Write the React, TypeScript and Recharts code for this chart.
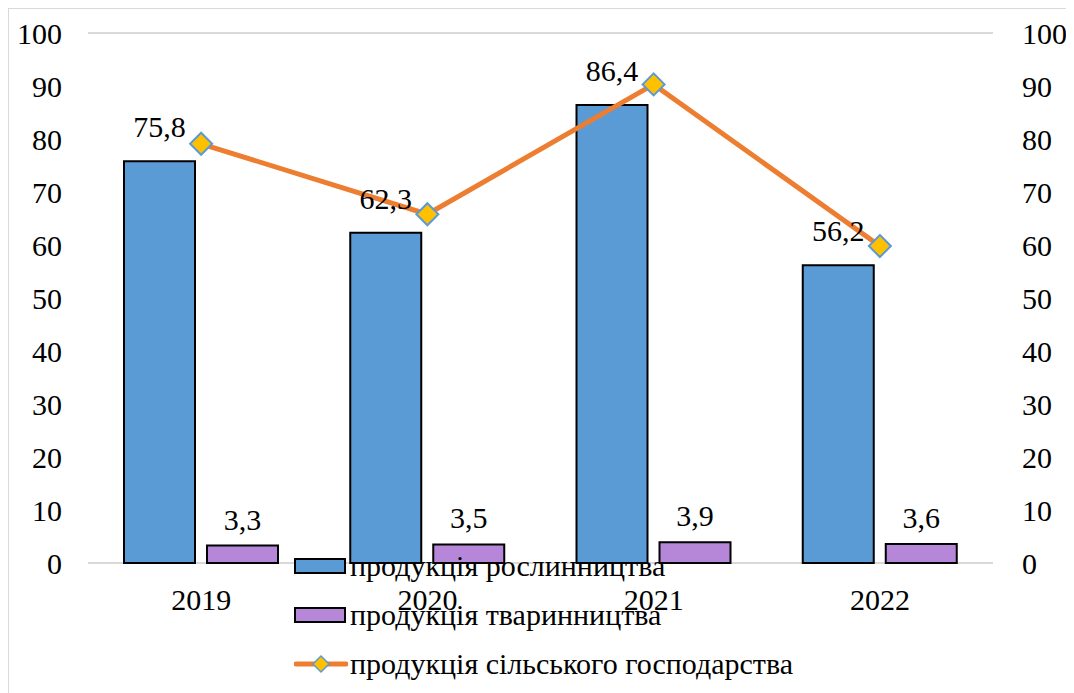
import React from "react";
import {
  ComposedChart,
  Bar,
  Line,
  XAxis,
  YAxis,
  CartesianGrid,
  Legend,
  LabelList,
} from "recharts";

const years = ["2019", "2020", "2021", "2022"];
const cropValues = [75.8, 62.3, 86.4, 56.2];
const livestockValues = [3.3, 3.5, 3.9, 3.6];
const agroValues = [79.1, 65.8, 90.3, 59.8];
const axisTicks = [0, 10, 20, 30, 40, 50, 60, 70, 80, 90, 100];

const seriesNames = [
  "продукція рослинництва",
  "продукція тваринництва",
  "продукція сільського господарства",
];

const data = years.map((year, i) => ({
  year,
  crop: cropValues[i],
  livestock: livestockValues[i],
  agro: agroValues[i],
}));

const FONT = "Liberation Serif, DejaVu Serif, Times New Roman, serif";
const BLUE = "#5B9BD5";
const PURPLE = "#B686D8";
const ORANGE = "#ED7D31";
const YELLOW = "#FFC000";

const comma = (v: any) => String(v).replace(".", ",");

const Diamond = (props: any) => {
  const { cx, cy, index } = props;
  if (cx == null || cy == null) return null;
  const r = 11;
  return (
    <polygon
      key={`d-${index}`}
      points={`${cx},${cy - r} ${cx + r},${cy} ${cx},${cy + r} ${cx - r},${cy}`}
      fill={YELLOW}
      stroke={BLUE}
      strokeWidth={2}
    />
  );
};

const renderLegend = () => (
  <div style={{ fontFamily: FONT, fontSize: 30, color: "#000" }}>
    {seriesNames.map((name, i) => (
      <div
        key={name}
        style={{ display: "flex", alignItems: "center", height: 49, whiteSpace: "nowrap" }}
      >
        <svg width={54} height={24} style={{ marginRight: 2 }}>
          {i < 2 ? (
            <rect
              x={1}
              y={5}
              width={50}
              height={14}
              fill={i === 0 ? BLUE : PURPLE}
              stroke="#000"
              strokeWidth={2}
            />
          ) : (
            <g>
              <line x1={2} y1={12} x2={52} y2={12} stroke={ORANGE} strokeWidth={5} strokeLinecap="round" />
              <polygon points="27,4 35,12 27,20 19,12" fill={YELLOW} stroke={BLUE} strokeWidth={1.5} />
            </g>
          )}
        </svg>
        <span>{name}</span>
      </div>
    ))}
  </div>
);

export default function App() {
  const tick = { fontFamily: FONT, fontSize: 30, fill: "#000" };
  return (
    <div
      style={{
        width: 1060,
        height: 684,
        border: "1px solid #D9D9D9",
        borderBottom: "none",
        background: "#fff",
        position: "relative",
      }}
    >
      <ComposedChart
        width={1060}
        height={684}
        data={data}
        margin={{ top: 24, right: 0, bottom: 100, left: 0 }}
        barSize={71}
        barGap={12}
      >
        <CartesianGrid vertical={false} stroke="#D9D9D9" strokeWidth={2} />
        <XAxis
          dataKey="year"
          axisLine={false}
          tickLine={false}
          tickSize={0}
          tickMargin={26}
          height={30}
          tick={tick}
        />
        <YAxis
          yAxisId="left"
          domain={[0, 100]}
          ticks={axisTicks}
          axisLine={false}
          tickLine={false}
          tickSize={0}
          tickMargin={26}
          width={79}
          tick={tick}
        />
        <YAxis
          yAxisId="right"
          orientation="right"
          domain={[0, 100]}
          ticks={axisTicks}
          axisLine={false}
          tickLine={false}
          tickSize={0}
          tickMargin={29}
          width={76}
          tick={{ ...tick, textAnchor: "start" }}
        />
        <Bar
          yAxisId="left"
          dataKey="crop"
          name={seriesNames[0]}
          fill={BLUE}
          stroke="#000"
          strokeWidth={2}
          isAnimationActive={false}
        >
          <LabelList
            dataKey="crop"
            position="top"
            offset={24}
            formatter={comma}
            style={{ fontFamily: FONT, fontSize: 30, fill: "#000" }}
          />
        </Bar>
        <Bar
          yAxisId="left"
          dataKey="livestock"
          name={seriesNames[1]}
          fill={PURPLE}
          stroke="#000"
          strokeWidth={2}
          isAnimationActive={false}
        >
          <LabelList
            dataKey="livestock"
            position="top"
            offset={16}
            formatter={comma}
            style={{ fontFamily: FONT, fontSize: 30, fill: "#000" }}
          />
        </Bar>
        <Line
          yAxisId="right"
          dataKey="agro"
          name={seriesNames[2]}
          stroke={ORANGE}
          strokeWidth={5}
          dot={Diamond}
          activeDot={false}
          isAnimationActive={false}
        />
        <Legend
          layout="vertical"
          align="center"
          verticalAlign="middle"
          content={renderLegend}
          wrapperStyle={{ left: 285, top: 532, width: "auto", height: "auto" }}
        />
      </ComposedChart>
    </div>
  );
}
